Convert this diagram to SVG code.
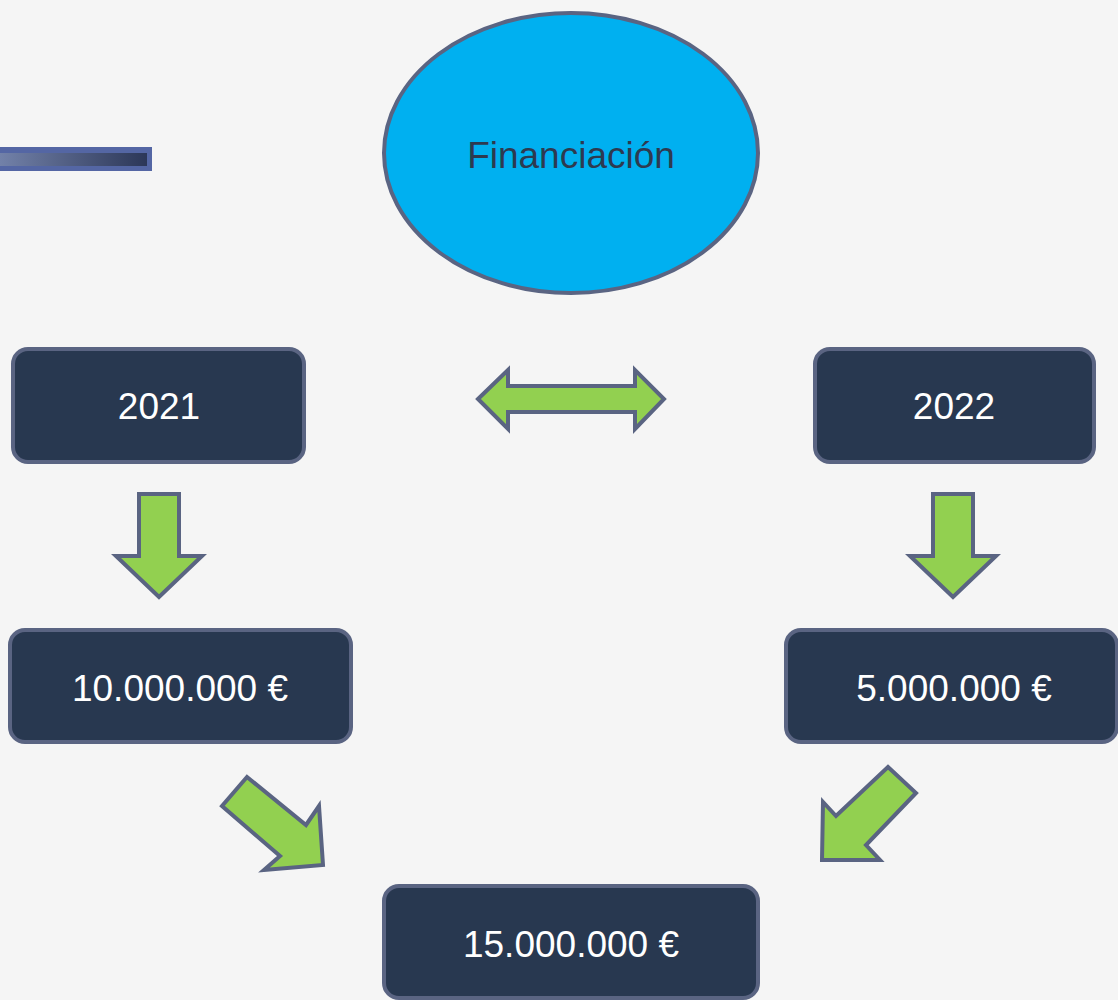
<svg xmlns="http://www.w3.org/2000/svg" width="1118" height="1000" viewBox="0 0 1118 1000">
<style>
.box{fill:#283850;stroke:#5a6482;stroke-width:4}
.lbl{font-family:"Liberation Sans",Arial,sans-serif;font-size:37px;fill:#ffffff;text-anchor:middle;dominant-baseline:central}
.arr{fill:#92d050;stroke:#5a6482;stroke-width:4;stroke-linejoin:miter}
</style>
<defs>
<linearGradient id="bar" x1="0" y1="0" x2="1" y2="0">
<stop offset="0" stop-color="#7382aa"/>
<stop offset="1" stop-color="#2c3758"/>
</linearGradient>
</defs>
<rect width="1118" height="1000" fill="#f5f5f5"/>
<g id="deco">
<rect x="-2" y="147" width="154" height="24" fill="#5466a4"/>
<rect x="-2" y="153" width="149" height="13" fill="url(#bar)"/>
</g>
<g id="financiacion">
<ellipse cx="571" cy="153" rx="187" ry="140" fill="#00b0f0" stroke="#5a6482" stroke-width="4"/>
<text x="571" y="155" class="lbl" style="fill:#2d3a50">Financiación</text>
</g>
<g id="y2021">
<rect class="box" x="13" y="349" width="291" height="113" rx="15"/>
<text class="lbl" x="159" y="406">2021</text>
</g>
<g id="y2022">
<rect class="box" x="815" y="349" width="279" height="113" rx="15"/>
<text class="lbl" x="954" y="406">2022</text>
</g>
<g id="m10">
<rect class="box" x="10" y="630" width="341" height="112" rx="15"/>
<text class="lbl" x="180" y="688">10.000.000 €</text>
</g>
<g id="m5">
<rect class="box" x="786" y="630" width="331" height="112" rx="15"/>
<text class="lbl" x="954" y="688">5.000.000 €</text>
</g>
<g id="m15">
<rect class="box" x="384" y="886" width="374" height="112" rx="15"/>
<text class="lbl" x="571" y="944">15.000.000 €</text>
</g>
<g id="connectors">
<polygon class="arr" points="478,399 508,370 508,386 635,386 635,370 664,399 635,429 635,412 508,412 508,429"/>
<polygon class="arr" points="139,494 179,494 179,556 202,556 159,597 116,556 139,556"/>
<polygon class="arr" points="933,494 973,494 973,556 996,556 953,597 910,556 933,556"/>
<polygon class="arr" points="247,777 306,825 319,806 323,865 264,870 280,856 222,806"/>
<polygon class="arr" points="888,767 916,793 866,845 880,860 822,860 823,802 836,816"/>
</g>
</svg>
